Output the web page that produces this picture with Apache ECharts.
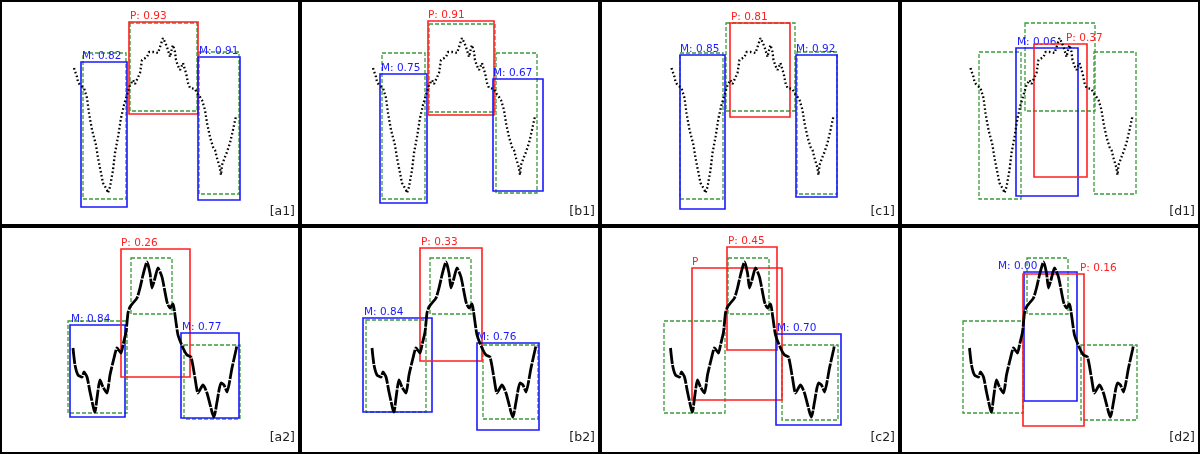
<!DOCTYPE html>
<html><head><meta charset="utf-8">
<script src="https://cdn.jsdelivr.net/npm/echarts@6.0.0/dist/echarts.min.js"></script>
<style>html,body{margin:0;padding:0;background:#fff}#c{width:1200px;height:454px}</style>
</head><body><div id="c"></div>
<script>
// ---------- data ----------
const panelNames = ['[a1]','[b1]','[c1]','[d1]','[a2]','[b2]','[c2]','[d2]'];

// top-row signal (noisy, dotted), x = time, y = amplitude (screen-down units)
const signalRow1 = [[74,68],[77,77],[78,82],[80,85],[82,83],[84,88],[87,98],[89,113],[92,130],[96,145],[98,158],[101,173],[103,183],[105,185],[107,190],[108,193],[110,187],[113,170],[115,153],[118,137],[121,118],[124,105],[127,95],[130,85],[133,80],[135,84],[137,83],[140,73],[142,60],[144,58],[147,57],[149,52],[151,50],[153,52],[155,50],[158,53],[161,44],[163,38],[165,42],[167,47],[170,57],[172,48],[173,45],[175,52],[176,60],[178,66],[180,70],[183,63],[185,70],[186,73],[188,83],[190,88],[192,90],[195,89],[197,93],[200,97],[202,100],[205,110],[207,123],[210,137],[213,147],[215,150],[217,158],[220,168],[221,175],[222,165],[225,157],[227,152],[230,143],[233,130],[236,116]];

// bottom-row signal (smooth)
const signalRow2 = [[73,122],[75,139],[78,149],[82,151],[84,146],[87,151],[90,166],[94,184],[95,186],[97,172],[100,154],[103,161],[107,167],[110,149],[114,132],[117,122],[121,127],[123,119],[126,106],[128,87],[130,81],[133,77],[137,72],[140,62],[143,49],[147,36],[150,47],[152,62],[155,52],[158,42],[162,51],[167,76],[170,82],[173,78],[175,89],[178,109],[183,122],[187,129],[191,131],[195,152],[198,167],[203,159],[207,167],[212,186],[214,191],[217,176],[221,157],[224,159],[227,166],[232,142],[236,124],[237,119]];

// signal time shift of each column
const signalShift = [0, -1, -2.5, -3.5];

// boxes: [x1, y1, x2, y2, kind, label, labelX]   kind: G = ground truth, M = blue, P = red
const boxesA1 = [[83,53,126,199,'G'],[130,23,197,111,'G'],[199,52,239,194,'G'],
  [81,62,127,207,'M','M: 0.82',82],[129,22,198,114,'P','P: 0.93',130],[198,57,240,200,'M','M: 0.91',199]];
const boxesB1 = [[82,53,125,199,'G'],[129,24,195,112,'G'],[196,53,237,193,'G'],
  [80,74,127,203,'M','M: 0.75',81],[128,21,194,115,'P','P: 0.91',128],[193,79,243,191,'M','M: 0.67',193]];
const boxesC1 = [[80,53,123,199,'G'],[126,23,195,111,'G'],[197,52,237,194,'G'],
  [80,55,125,209,'M','M: 0.85',80],[130,23,190,117,'P','P: 0.81',131],[196,55,237,197,'M','M: 0.92',196]];
const boxesD1 = [[79,52,121,199,'G'],[125,23,195,111,'G'],[194,52,236,194,'G'],
  [116,48,178,196,'M','M: 0.06',117],[134,44,187,177,'P','P: 0.37',166]];
const boxesA2 = [[68,95,127,187,'G'],[131,32,172,88,'G'],[184,119,240,193,'G'],
  [70,99,125,191,'M','M: 0.84',71],[121,23,190,151,'P','P: 0.26',121],[181,107,239,192,'M','M: 0.77',182]];
const boxesB2 = [[66,94,126,186,'G'],[130,32,171,88,'G'],[183,119,238,193,'G'],
  [63,92,132,186,'M','M: 0.84',64],[120,22,182,135,'P','P: 0.33',121],[177,117,239,204,'M','M: 0.76',177]];
const boxesC2 = [[64,95,125,187,'G'],[128,32,169,88,'G'],[182,119,238,194,'G'],
  [92,42,182,174,'P','P',92],[127,21,177,124,'P','P: 0.45',128],[176,108,241,199,'M','M: 0.70',177]];
const boxesD2 = [[63,95,123,187,'G'],[127,32,168,88,'G'],[181,119,237,194,'G'],
  [124,46,177,175,'M','M: 0.00',98],[123,48,184,200,'P','P: 0.16',180]];
const allBoxes = [boxesA1, boxesB1, boxesC1, boxesD1, boxesA2, boxesB2, boxesC2, boxesD2];

// ---------- layout / style ----------
const colX = [0, 300, 600, 900, 1200];
const rowY = [0, 226, 454];
const STYLE = {
  G: {color: '#3a9a3a', width: 1.3, dash: [4, 2]},
  M: {color: '#1a1aff', width: 1.6, dash: null},
  P: {color: '#ff2020', width: 1.6, dash: null}
};

const grids = [], xAxes = [], yAxes = [], series = [], graphics = [];
for (let i = 0; i < 8; i++) {
  const col = i % 4, row = Math.floor(i / 4);
  const w = 300, h = rowY[row + 1] - rowY[row];
  grids.push({left: colX[col], top: rowY[row], width: w, height: h});
  xAxes.push({type: 'value', gridIndex: i, min: 0, max: w, show: false});
  yAxes.push({type: 'value', gridIndex: i, min: 0, max: h, inverse: true, show: false});
  const sig = row === 0 ? signalRow1 : signalRow2;
  const boxes = allBoxes[i];
  series.push({
    type: 'custom', xAxisIndex: i, yAxisIndex: i, clip: false, z: 2,
    data: boxes.map(b => [b[0], b[1], b[2], b[3]]),
    renderItem(params, api) {
      const b = boxes[params.dataIndex];
      const p1 = api.coord([b[0], b[1]]), p2 = api.coord([b[2], b[3]]);
      const st = STYLE[b[4]];
      const ch = [{type: 'rect', shape: {x: p1[0], y: p1[1], width: p2[0] - p1[0], height: p2[1] - p1[1]},
        style: {fill: 'none', stroke: st.color, lineWidth: st.width, lineDash: st.dash}}];
      if (b[5]) {
        const lp = api.coord([b[6], b[1]]);
        ch.push({type: 'text', x: lp[0], y: lp[1] - 0.5,
          style: {text: b[5], fill: st.color, font: '10.5px "DejaVu Sans"', align: 'left', verticalAlign: 'bottom'}});
      }
      return {type: 'group', children: ch};
    }
  });
  series.push({
    type: 'line', xAxisIndex: i, yAxisIndex: i, z: 3, showSymbol: false, silent: true,
    smooth: row === 0 ? false : 0.2,
    data: sig.map(p => [p[0] + signalShift[col], p[1]]),
    lineStyle: row === 0 ? {color: '#000', width: 2.3, type: [1.6, 2.4]} : {color: '#000', width: 2.8, type: [16, 1.2]}
  });
  graphics.push({type: 'rect', shape: {x: colX[col] + 1, y: rowY[row] + 1, width: colX[col + 1] - colX[col] - 2, height: h - 2},
    style: {fill: 'none', stroke: '#000', lineWidth: 2}, z: 10});
  graphics.push({type: 'text', x: colX[col] + 295, y: rowY[row] + 212,
    style: {text: panelNames[i], fill: '#222', font: '12.5px "DejaVu Sans"', align: 'right', verticalAlign: 'middle'}, z: 10});
}

const chart = echarts.init(document.getElementById('c'), null, {renderer: 'canvas'});
chart.setOption({animation: false, grid: grids, xAxis: xAxes, yAxis: yAxes, series, graphic: graphics});
</script></body></html>
